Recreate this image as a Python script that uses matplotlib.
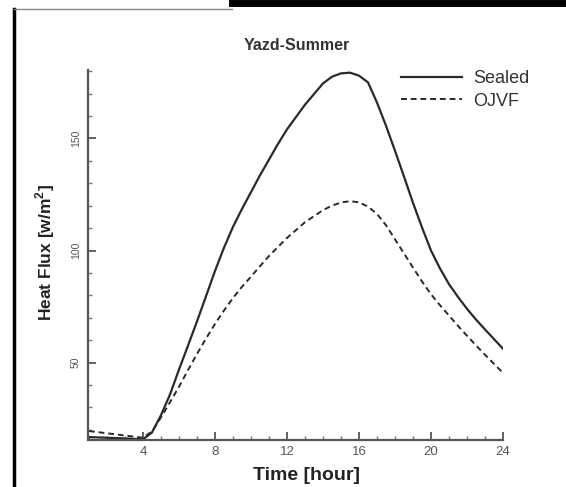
import matplotlib
matplotlib.use("Agg")
import matplotlib.pyplot as plt
from matplotlib.lines import Line2D
from matplotlib.ticker import MultipleLocator

# ---- data ----
hours = [1, 2, 3, 4, 4.5, 5, 5.5, 6, 6.5, 7, 7.5, 8, 8.5, 9, 9.5, 10, 10.5,
         11, 11.5, 12, 13, 14, 14.5, 15, 15.5, 16, 16.5, 17, 17.5, 18, 18.5,
         19, 19.5, 20, 20.5, 21, 21.5, 22, 22.5, 23, 24]
sealed = [16.8, 16.5, 16.2, 15.8, 18.8, 26.5, 35.7, 46.8, 57.5, 68.3, 79.5,
          90.8, 101.2, 110.5, 118.5, 126.0, 133.5, 140.5, 147.5, 154.0, 165.0,
          174.5, 177.5, 179.0, 179.3, 178.0, 175.0, 166.0, 155.7, 144.5, 133.0,
          121.3, 110.3, 100.0, 92.0, 85.0, 79.3, 74.0, 69.2, 64.8, 56.2]
ojvf = [19.5, 18.5, 17.5, 16.5, 19.3, 25.5, 32.3, 39.2, 46.6, 53.8, 60.7,
        67.2, 73.2, 78.8, 83.8, 88.3, 93.0, 97.5, 101.6, 105.6, 112.6, 118.0,
        120.0, 121.4, 122.0, 121.5, 119.6, 116.3, 111.3, 105.0, 98.7, 92.4,
        86.2, 80.5, 75.6, 71.0, 66.4, 62.0, 57.7, 53.5, 45.4]
series_labels = ["Sealed", "OJVF"]
xticks = [4, 8, 12, 16, 20, 24]
yticks = [50, 100, 150]
title = "Yazd-Summer"
xlabel = "Time [hour]"
ylabel = "Heat Flux [w/m$^{2}$]"

plt.rcParams['font.family'] = ['Liberation Sans', 'DejaVu Sans']
plt.rcParams['mathtext.fontset'] = 'custom'
plt.rcParams['mathtext.rm'] = 'Liberation Sans:bold'
plt.rcParams['mathtext.bf'] = 'Liberation Sans:bold'

fig = plt.figure(figsize=(5.66, 4.87), dpi=100)
ax = fig.add_axes([88/566, 1-440/487, (503-88)/566, (440-70)/487])

lc = '#2a2a2a'
ax.plot(hours, sealed, color=lc, lw=1.6, label=series_labels[0])
ax.plot(hours, ojvf, color=lc, lw=1.4, ls=(0, (3, 2)), label=series_labels[1])

ax.set_xlim(0.95, 24)
ax.set_ylim(15.5, 180.5)
ax.set_xticks(xticks)
ax.set_yticks(yticks)
ax.xaxis.set_minor_locator(MultipleLocator(1))
ax.yaxis.set_minor_locator(MultipleLocator(10))

for s in ['top', 'right']:
    ax.spines[s].set_visible(False)
for s in ['left', 'bottom']:
    ax.spines[s].set_color('#555555')
    ax.spines[s].set_linewidth(1.6)

ax.tick_params(which='major', direction='in', length=6, width=1.3, color='#555555',
               labelcolor='#555555')
ax.tick_params(which='minor', direction='in', length=3, width=1.0, color='#777777')
ax.tick_params(axis='x', which='major', labelsize=9.5, pad=4)
ax.tick_params(axis='y', which='major', labelsize=7.5, pad=5)
for lab in ax.get_yticklabels():
    lab.set_rotation(90)
    lab.set_va('center')

leg = ax.legend(loc='upper left', bbox_to_anchor=(0.708, 0.856),
                bbox_transform=fig.transFigure, frameon=False, fontsize=13,
                handlelength=3.4, handletextpad=0.6, labelspacing=0.3,
                borderpad=0, borderaxespad=0)
for t in leg.get_texts():
    t.set_color('#333333')

fig.text(0.524, 1-46/487, title, ha='center', va='center', fontsize=11.5,
         fontweight='bold', color='#333333')
fig.text(0.541, 1-475/487, xlabel, ha='center', va='center', fontsize=14,
         fontweight='bold', color='#222222')
fig.text(0.0795, 1-253/487, ylabel, ha='center', va='center', fontsize=12.5,
         fontweight='bold', rotation=90, color='#222222')

# page border pieces from the scan
fig.add_artist(Line2D([14/566, 14/566], [0, 1-9/487], transform=fig.transFigure,
                      color='black', lw=2.5))
fig.add_artist(Line2D([14/566, 232/566], [1-9/487, 1-9/487], transform=fig.transFigure,
                      color='#888888', lw=1))
fig.add_artist(Line2D([232/566, 1], [1-3/487, 1-3/487], transform=fig.transFigure,
                      color='black', lw=5))

fig.savefig('out.png', dpi=100)
